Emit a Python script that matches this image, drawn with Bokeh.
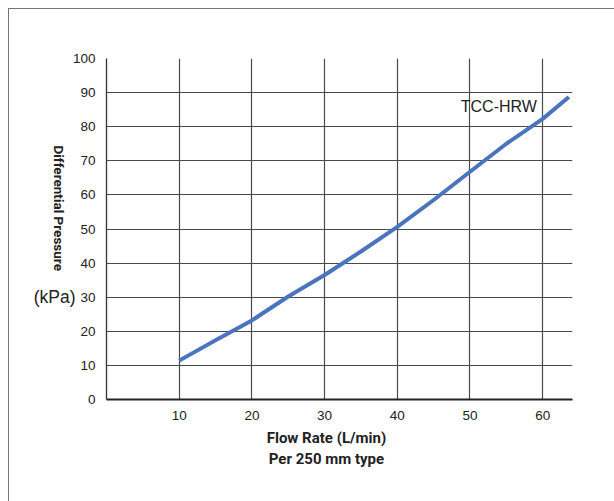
import math
from bokeh.plotting import figure
from bokeh.models import Label, FixedTicker, Range1d, LinearAxis
from bokeh.embed import file_html
from bokeh.resources import INLINE

# Data
flow = [10, 15, 20, 25, 30, 35, 40, 45, 50, 55, 60, 63.6]
pressure = [11.4, 17.4, 23.2, 30.2, 36.5, 43.4, 50.6, 58.5, 66.8, 75.0, 82.3, 88.7]
x_ticks = [10, 20, 30, 40, 50, 60]
y_ticks = [0, 10, 20, 30, 40, 50, 60, 70, 80, 90, 100]
series_name = "TCC-HRW"
x_title_lines = ["Flow Rate (L/min)", "Per 250 mm type"]
y_title = "Differential Pressure"
y_title_end_at = 37.7
y_unit = "(kPa)"
y_unit_at = 30

NB = "\u00a0"

W, H = 606, 493
p = figure(width=W, height=H, output_backend="svg", toolbar_location=None,
           x_range=Range1d(0, 64.1), y_range=Range1d(0, 100),
           min_border_left=97, min_border_right=43, min_border_top=49, min_border_bottom=103)
p.styles = {"margin-left": "8px", "margin-top": "8px",
            "border-left": "1px solid #777", "border-top": "1px solid #777"}
p.outline_line_color = None
p.background_fill_color = "white"
p.border_fill_color = "white"

p.xaxis.ticker = FixedTicker(ticks=x_ticks)
p.yaxis.ticker = FixedTicker(ticks=y_ticks)
p.xgrid.ticker = FixedTicker(ticks=x_ticks)
p.ygrid.ticker = FixedTicker(ticks=y_ticks[1:])
for g in (p.xgrid, p.ygrid):
    g.grid_line_color = "#4a4a4a"
    g.grid_line_width = 1.2

for ax in (p.xaxis, p.yaxis):
    ax.major_tick_line_color = None
    ax.minor_tick_line_color = None
    ax.major_label_text_font = "Liberation Sans"
    ax.major_label_text_font_size = "13.5px"
    ax.major_label_text_color = "#222222"
    ax.axis_label_text_font = "Roboto"
    ax.axis_label_text_font_style = "bold"
    ax.axis_label_text_color = "#222222"
p.xaxis.axis_line_color = "#222222"
p.xaxis.axis_line_width = 2
p.yaxis.axis_line_color = "#333333"
p.yaxis.axis_line_width = 1.3
p.xaxis.major_label_standoff = 5
p.yaxis.major_label_standoff = 5

# x title (two lines), padded so the block sits slightly left of centre
p.xaxis.axis_label = "\n".join(line + NB * 7 for line in x_title_lines)
p.xaxis.axis_label_text_font_size = "15px"
p.xaxis.axis_label_text_line_height = 1.2
p.xaxis.axis_label_standoff = 6


def label_axis(tick, text, standoff, font, size, style="normal", orientation="horizontal"):
    ax = LinearAxis(ticker=FixedTicker(ticks=[tick]), major_label_overrides={tick: text})
    ax.axis_line_color = None
    ax.major_tick_line_color = None
    ax.minor_tick_line_color = None
    ax.major_label_text_font = font
    ax.major_label_text_font_size = size
    ax.major_label_text_font_style = style
    ax.major_label_text_color = "#222222"
    ax.major_label_standoff = standoff
    ax.major_label_orientation = orientation
    return ax


# y title reading top to bottom, then the unit label further out
p.add_layout(label_axis(y_title_end_at, y_title, 5, "Roboto", "13.5px", "bold", -math.pi / 2), "left")
p.add_layout(label_axis(y_unit_at, y_unit, -42, "Liberation Sans", "17.5px"), "left")

p.line(flow, pressure, line_color="#4a74bd", line_width=4)

p.add_layout(Label(x=59.2, y=85.9, text=series_name, text_align="right", text_baseline="middle",
                   text_font="Liberation Sans", text_font_size="16px", text_color="#222222"))

open("out.html", "w").write(file_html(p, INLINE))
